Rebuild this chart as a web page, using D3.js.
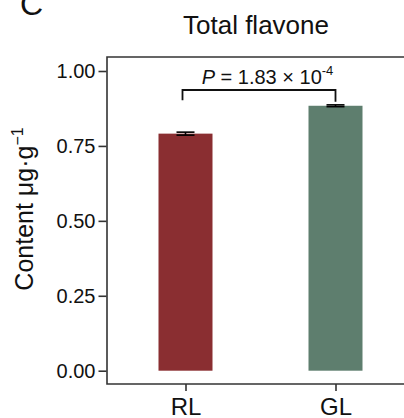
<!DOCTYPE html>
<html>
<head>
<meta charset="utf-8">
<script src="https://cdn.jsdelivr.net/npm/d3@7"></script>
<style>
  body { margin: 0; background: #fff; }
  svg { display: block; font-family: "Liberation Sans", Arial, sans-serif; }
</style>
</head>
<body>
<svg id="chart" width="404" height="418"></svg>
<script>
// data
var groups = ["RL", "GL"];
var means = [0.791, 0.884];
var sds = [0.005, 0.003];
var colors = ["#8a2e31", "#5e7e6e"];
var yTicks = [0, 0.25, 0.5, 0.75, 1.0];
var pText = "1.83 \u00d7 10";
var pExp = "-4";

var svg = d3.select("#chart");
var axisColor = "#333";

var y = d3.scaleLinear().domain([0, 1]).range([370.7, 71]);
var x = d3.scalePoint().domain(groups).range([185.5, 335.5]);
var barW = 54;

var frame = {left: 107, top: 57, bottom: 384, right: 410};

// bars
svg.selectAll(".bar")
    .data(groups)
  .enter().append("rect")
    .attr("class", "bar")
    .attr("x", function(d) { return x(d) - barW / 2; })
    .attr("y", function(d, i) { return y(means[i]); })
    .attr("width", barW)
    .attr("height", function(d, i) { return y(0) - y(means[i]); })
    .attr("fill", function(d, i) { return colors[i]; });

// error bars
var eb = svg.selectAll(".err")
    .data(groups)
  .enter().append("g")
    .attr("class", "err")
    .attr("stroke", "#000")
    .attr("stroke-width", 1.6);
eb.append("line")
    .attr("x1", function(d) { return x(d); })
    .attr("x2", function(d) { return x(d); })
    .attr("y1", function(d, i) { return y(means[i] - sds[i]); })
    .attr("y2", function(d, i) { return y(means[i] + sds[i]); });
eb.append("line")
    .attr("x1", function(d) { return x(d) - 9; })
    .attr("x2", function(d) { return x(d) + 9; })
    .attr("y1", function(d, i) { return y(means[i] - sds[i]); })
    .attr("y2", function(d, i) { return y(means[i] - sds[i]); });
eb.append("line")
    .attr("x1", function(d) { return x(d) - 9; })
    .attr("x2", function(d) { return x(d) + 9; })
    .attr("y1", function(d, i) { return y(means[i] + sds[i]); })
    .attr("y2", function(d, i) { return y(means[i] + sds[i]); });

// frame (left, top, bottom)
svg.append("path")
    .attr("d", "M" + frame.right + "," + frame.top + "H" + frame.left + "V" + frame.bottom + "H" + frame.right)
    .attr("fill", "none")
    .attr("stroke", axisColor)
    .attr("stroke-width", 1.6);

// y axis
var gy = svg.append("g")
    .attr("transform", "translate(" + (frame.left - 0.5) + ",0)")
    .call(d3.axisLeft(y).tickValues(yTicks).tickFormat(d3.format(".2f")).tickSize(8).tickPadding(3));
gy.select(".domain").remove();
gy.selectAll("line").attr("stroke", axisColor).attr("stroke-width", 1.6);
gy.selectAll("text")
    .attr("fill", "#111")
    .style("font-size", "20px")
    .style("font-family", "Liberation Sans, Arial, sans-serif");

// x axis
var gx = svg.append("g")
    .attr("transform", "translate(0," + frame.bottom + ")")
    .call(d3.axisBottom(x).tickSize(7).tickPadding(7));
gx.select(".domain").remove();
gx.selectAll("line").attr("stroke", axisColor).attr("stroke-width", 1.6);
gx.selectAll("text")
    .attr("fill", "#111")
    .style("font-size", "24px")
    .style("font-family", "Liberation Sans, Arial, sans-serif");

// significance bracket
var bTop = 90;
svg.append("path")
    .attr("d", "M" + (x("RL") - 3) + "," + (y(means[0] + sds[0]) - 32) +
               "V" + bTop + "H" + x("GL") + "V" + (y(means[1] + sds[1]) - 3))
    .attr("fill", "none")
    .attr("stroke", "#111")
    .attr("stroke-width", 1.8);

var pt = svg.append("text")
    .attr("x", (x("RL") + x("GL")) / 2 + 7)
    .attr("y", 84)
    .attr("text-anchor", "middle")
    .attr("fill", "#111")
    .style("font-size", "20px");
pt.append("tspan").style("font-style", "italic").text("P");
pt.append("tspan").text(" = " + pText);
pt.append("tspan").attr("dy", -9).style("font-size", "13px").text(pExp);

// title
svg.append("text")
    .attr("x", 256)
    .attr("y", 34)
    .attr("text-anchor", "middle")
    .attr("fill", "#111")
    .style("font-size", "26px")
    .text("Total flavone");

// y label
var yl = svg.append("text")
    .attr("transform", "translate(33,209) rotate(-90)")
    .attr("text-anchor", "middle")
    .attr("fill", "#111")
    .style("font-size", "25px");
yl.append("tspan").text("Content \u03bcg\u00b7g");
yl.append("tspan").attr("dy", -10).style("font-size", "16px").text("\u22121");

// panel letter (cut at the top edge, as in the figure)
svg.append("text")
    .attr("x", 20)
    .attr("y", 15)
    .attr("fill", "#111")
    .style("font-size", "32px")
    .text("C");
</script>
</body>
</html>
